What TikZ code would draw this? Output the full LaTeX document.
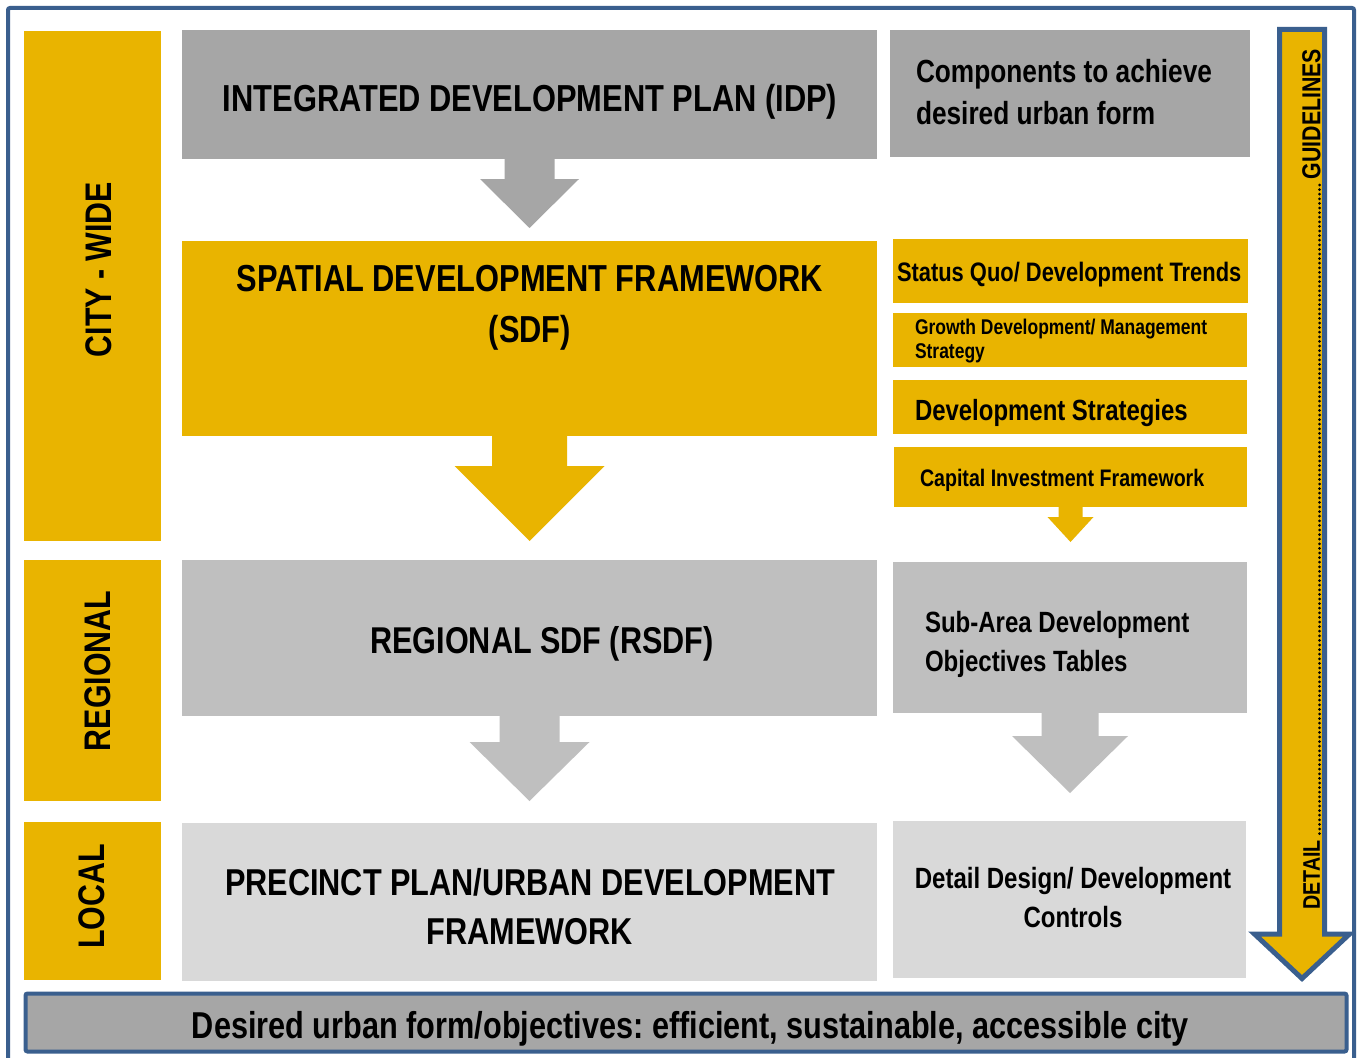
\documentclass[tikz,border=0pt]{standalone}
\usepackage{fontspec}
\setmainfont{Liberation Sans}[FakeStretch=0.82]
\usetikzlibrary{calc}
\definecolor{ylw}{RGB}{233,180,0}
\definecolor{gA}{HTML}{A6A6A6}
\definecolor{gB}{HTML}{BFBFBF}
\definecolor{gC}{HTML}{D9D9D9}
\definecolor{blu}{RGB}{58,95,142}
\frenchspacing
\newcommand\fs[2]{\fontsize{#1}{#2}\selectfont\bfseries}
% #1 anchor, #2 shaft half width, #3 shaft length, #4 head half width, #5 head length, #6 colour
\newcommand\blockarr[6]{%
  \fill[#6] ($(#1)+(-#2,-1)$) -- ($(#1)+(#2,-1)$) -- ($(#1)+(#2,#3)$) -- ($(#1)+(#4,#3)$)
    -- ($(#1)+(0,#3+#5)$) -- ($(#1)+(-#4,#3)$) -- ($(#1)+(-#2,#3)$) -- cycle;}
\begin{document}
\begin{tikzpicture}[x=1pt,y=-1pt,
  box/.style={inner sep=0pt, outer sep=0pt, draw=none},
  txt/.style={inner sep=0pt, outer sep=0pt, text=black}]
\useasboundingbox (0,0) rectangle (1362,1057);
\fill[white] (0,0) rectangle (1362,1057);
\draw[blu, line width=4pt, rounded corners=2pt] (8,8) rectangle (1354,1090);

% left level labels
\node[box, fill=ylw, minimum width=137, minimum height=510] (city) at (92.5,286) {};
\node[box, fill=ylw, minimum width=137, minimum height=241] (reg) at (92.5,680.5) {};
\node[box, fill=ylw, minimum width=137, minimum height=158] (loc) at (92.5,901) {};
\node[txt, rotate=90, font=\fs{37}{40}] (cityT) at (98.5,269.5) {CITY - WIDE};
\node[txt, rotate=90, font=\fs{37}{40}] (regT) at (97.5,671) {REGIONAL};
\node[txt, rotate=90, font=\fs{37}{40}] (locT) at (91.5,896.5) {LOCAL};

% main column
\node[box, fill=gA, minimum width=695, minimum height=129] (idp) at (529.5,94.5) {};
\node[box, fill=ylw, minimum width=695, minimum height=195] (sdf) at (529.5,338.5) {};
\node[box, fill=gB, minimum width=695, minimum height=156] (rsdf) at (529.5,638) {};
\node[box, fill=gC, minimum width=695, minimum height=158] (prec) at (529.5,902) {};

\node[txt, anchor=base, font=\fs{37.6}{40}] (idpT) at (530,111) {INTEGRATED DEVELOPMENT PLAN (IDP)};
\node[txt, anchor=north, align=center, font=\fs{37.6}{51}] (sdfT) at (530,265) {SPATIAL DEVELOPMENT FRAMEWORK\\(SDF)};
\node[txt, anchor=base, font=\fs{37.3}{40}] (rsdfT) at (542,653) {REGIONAL SDF (RSDF)};
\node[txt, anchor=north, align=center, font=\fs{37.4}{49}] (precT) at (530,868) {PRECINCT PLAN/URBAN DEVELOPMENT\\FRAMEWORK};

\blockarr{idp.south}{25}{20}{49.5}{49}{gA}
\blockarr{sdf.south}{37.5}{30}{75}{75}{ylw}
\blockarr{rsdf.south}{30}{26}{60}{59}{gB}

% right column
\node[box, fill=gA, minimum width=360, minimum height=127] (comp) at (1070,93.5) {};
\node[box, fill=ylw, minimum width=355, minimum height=64] (sq) at (1070.5,271) {};
\node[box, fill=ylw, minimum width=354, minimum height=54] (gr) at (1070,340) {};
\node[box, fill=ylw, minimum width=354, minimum height=54] (ds) at (1070,407) {};
\node[box, fill=ylw, minimum width=353, minimum height=60] (cif) at (1070.5,477) {};
\node[box, fill=gB, minimum width=354, minimum height=151] (sub) at (1070,637.5) {};
\node[box, fill=gC, minimum width=353, minimum height=157] (det) at (1069.5,899.5) {};

\node[txt, anchor=north west, align=left, font=\fs{32}{42}] (compT) at (916,59) {Components to achieve\\desired urban form};
\node[txt, anchor=base west, font=\fs{26.7}{30}] (sqT) at (897,281.5) {Status Quo/ Development Trends};
\node[txt, anchor=north west, align=left, font=\fs{21.3}{24}] (grT) at (915,319.5) {Growth Development/ Management\\Strategy};
\node[txt, anchor=base west, font=\fs{29.2}{32}] (dsT) at (915,420.5) {Development Strategies};
\node[txt, anchor=base west, font=\fs{23.9}{27}] (cifT) at (920,486.5) {Capital Investment Framework};
\node[txt, anchor=north west, align=left, font=\fs{29.3}{39}] (subT) at (925,611.5) {Sub-Area Development\\Objectives Tables};
\node[txt, anchor=north, align=center, font=\fs{29.3}{39}] (detT) at (1073,867.5) {Detail Design/ Development\\Controls};

\blockarr{cif.south}{12}{10}{23}{25}{ylw}
\blockarr{sub.south}{28.5}{23}{58}{57}{gB}

% guidelines -> detail arrow
\draw[blu, line width=5pt, fill=ylw, line join=miter]
  (1279.5,29.5) -- (1324.5,29.5) -- (1324.5,934) -- (1349.5,934) -- (1302,978.5)
  -- (1254.5,934) -- (1279.5,934) -- cycle;
\node[txt, rotate=90, font=\fs{26}{30}] (guideT) at (1311.5,114) {GUIDELINES};
\node[txt, rotate=90, font=\fs{24}{28}] (detailT) at (1311.5,875) {DETAIL};
\coordinate (g0) at (1319.5,185);
\coordinate (d0) at (1319.5,836);
\draw[black, line width=3pt, line cap=round, dash pattern=on 0pt off 4.6pt] (g0) -- (d0);

% bottom bar
\node[box, draw=blu, line width=4pt, fill=gA, rounded corners=2pt, minimum width=1321, minimum height=58] (bar) at (686,1022.5) {};
\node[txt, anchor=base, font=\fs{37.4}{40}] (barT) at (690.5,1038) {Desired urban form/objectives: efficient, sustainable, accessible city};
\end{tikzpicture}
\end{document}
